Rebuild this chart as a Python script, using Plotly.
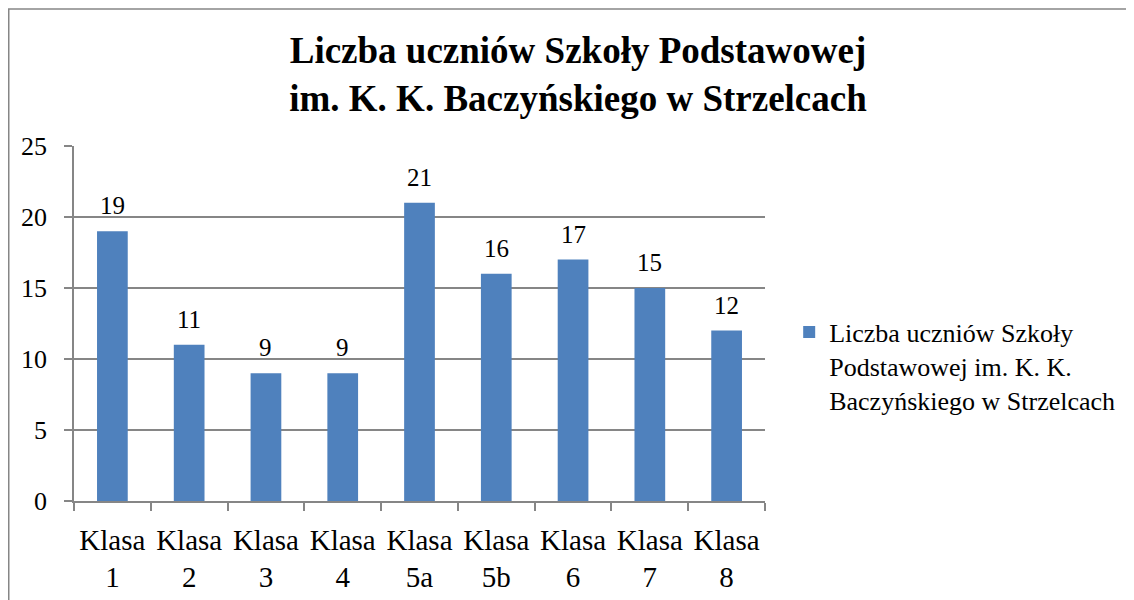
import plotly.graph_objects as go

categories = ["Klasa<br>1", "Klasa<br>2", "Klasa<br>3", "Klasa<br>4", "Klasa<br>5a",
              "Klasa<br>5b", "Klasa<br>6", "Klasa<br>7", "Klasa<br>8"]
values = [19, 11, 9, 9, 21, 16, 17, 15, 12]
series_name = "Liczba uczniów Szkoły<br>Podstawowej im. K. K.<br>Baczyńskiego w Strzelcach"
title_text = "<b>Liczba uczniów Szkoły Podstawowej<br>im. K. K. Baczyńskiego w Strzelcach</b>"
y_ticks = [0, 5, 10, 15, 20, 25]

FONT = "Liberation Serif"
GRID = "#868686"
BAR = "#4F81BD"

W, H = 1126, 592
L, R, T, B = 66, 369, 138, 99
pw, ph = W - L - R, H - T - B

fig = go.Figure()
fig.add_trace(go.Bar(
    x=categories, y=values, name=series_name,
    marker=dict(color=BAR, line=dict(width=0)),
    showlegend=True,
))

for c, v in zip(categories, values):
    fig.add_annotation(x=c, y=v, text=str(v), showarrow=False,
                       yanchor="bottom", yshift=10,
                       font=dict(family=FONT, size=25, color="black"))

# chart border (left and top edges visible)
fig.add_shape(type="rect", xref="paper", yref="paper",
              x0=(0.75 - L) / pw, x1=(W + 20 - L) / pw,
              y0=-(B + 20) / ph, y1=(ph + T - 1) / ph,
              line=dict(color=GRID, width=1.5), layer="below")

fig.update_layout(
    width=W, height=H,
    margin=dict(l=L, r=R, t=T, b=B, pad=0),
    paper_bgcolor="white", plot_bgcolor="white",
    bargap=0.6,
    font=dict(family=FONT, color="black"),
    title=dict(text=title_text, x=570 / W, xanchor="center",
               y=1 - 55 / H, yanchor="middle",
               font=dict(family=FONT, size=37, color="black")),
    legend=dict(x=1.035, xanchor="left", y=0.38, yanchor="middle",
                valign="top", font=dict(family=FONT, size=26, color="black"),
                bgcolor="rgba(0,0,0,0)"),
    xaxis=dict(showgrid=False, showline=True, linecolor=GRID, linewidth=1.5,
               ticks="outside", tickson="boundaries", ticklen=8,
               tickcolor=GRID, tickwidth=1.5, ticklabelstandoff=12,
               tickangle=0, automargin=False,
               tickfont=dict(family=FONT, size=29, color="black")),
    yaxis=dict(range=[0, 25], tickvals=y_ticks, showgrid=True, gridcolor=GRID,
               gridwidth=1.5, showline=True, linecolor=GRID, linewidth=1.5,
               ticks="outside", ticklen=8, tickcolor=GRID, tickwidth=1.5,
               zeroline=False, ticklabelstandoff=12, automargin=False,
               tickfont=dict(family=FONT, size=26, color="black")),
)

fig.write_html("out.html")
